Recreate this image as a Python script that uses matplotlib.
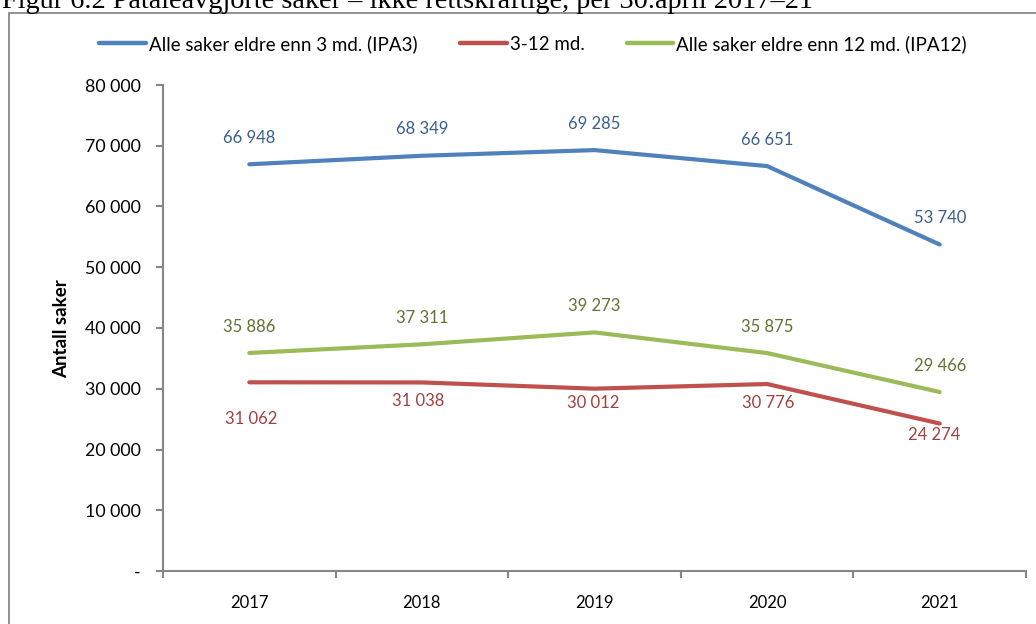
import matplotlib
matplotlib.use("Agg")
import matplotlib.pyplot as plt
from matplotlib.ticker import FuncFormatter, MultipleLocator
from matplotlib.lines import Line2D
from matplotlib.patches import Rectangle

years = ["2017", "2018", "2019", "2020", "2021"]
ipa3 = [66948, 68349, 69285, 66651, 53740]
mid = [31062, 31038, 30012, 30776, 24274]
ipa12 = [35886, 37311, 39273, 35875, 29466]
series_names = ["Alle saker eldre enn 3 md. (IPA3)", "3-12 md.", "Alle saker eldre enn 12 md. (IPA12)"]
title = "Figur 6.2 Påtaleavgjorte saker – ikke rettskraftige, per 30.april 2017–21"

plt.rcParams['font.family'] = ['Lato', 'DejaVu Sans']

W, H = 1036, 624
fig = plt.figure(figsize=(W / 100, H / 100), dpi=100)
ax = fig.add_axes([163 / W, (H - 571) / H, (1026 - 163) / W, (571 - 85) / H])

c_blue, c_red, c_green = "#4F81BD", "#C0504D", "#9BBB59"
t_blue, t_red, t_green = "#3B5F8C", "#A0413F", "#5E7533"
axis_c = "#868686"

x = list(range(len(years)))
for vals, col in [(ipa3, c_blue), (mid, c_red), (ipa12, c_green)]:
    ax.plot(x, vals, color=col, lw=3.0, solid_capstyle="round", solid_joinstyle="round")

def fmt(v):
    return f"{int(round(v)):,}".replace(",", " ")

# label offsets in points (style only)
above = [(0, 19)] * len(years)
red_offsets = [(1, -26.5), (-3, -13.2), (-1, -10), (1, -13.3), (-4, -8.1)]

for vals, col, offs in [(ipa3, t_blue, above), (ipa12, t_green, above), (mid, t_red, red_offsets)]:
    for xi, v, off in zip(x, vals, offs):
        ax.annotate(fmt(v), (xi, v), xytext=off, textcoords="offset points",
                    ha="center", va="center", fontsize=12, color=col)

ax.set_xlim(-0.5, len(years) - 0.5)
ax.set_ylim(0, 80000)
ax.yaxis.set_major_locator(MultipleLocator(10000))
ax.yaxis.set_major_formatter(FuncFormatter(lambda v, p: "-" if v == 0 else fmt(v)))
ax.set_xticks([i - 0.5 for i in range(len(years) + 1)], minor=False)
ax.set_xticklabels([])
ax.set_xticks(x, minor=True)
ax.set_xticklabels(years, minor=True)
ax.tick_params(axis="x", which="major", direction="out", length=5, width=1.5, color=axis_c)
ax.tick_params(axis="x", which="minor", length=0, pad=17, labelsize=12, labelcolor="#000000")
ax.tick_params(axis="y", direction="out", length=5, width=1.5, color=axis_c, pad=11,
               labelsize=12.8, labelcolor="#000000")
for s in ["top", "right"]:
    ax.spines[s].set_visible(False)
for s in ["left", "bottom"]:
    ax.spines[s].set_color(axis_c)
    ax.spines[s].set_linewidth(1.5)

fig.text(62 / W, 1 - 329 / H, "Antall saker", rotation=90, ha="center", va="center",
         fontsize=13.5, fontweight="bold")

handles = [Line2D([], [], color=c, lw=3.2, solid_capstyle="round") for c in (c_blue, c_red, c_green)]
fig.legend(handles, series_names, loc="center", bbox_to_anchor=(533 / W, 1 - 44 / H), ncol=3,
           frameon=False, fontsize=13.5, handlelength=2.5, handletextpad=0.16, columnspacing=2.25,
           borderaxespad=0, borderpad=0)

# outer border (cropped)
fig.patches.append(Rectangle((9 / W, -0.1), 1.2, (1 - 13 / H) + 0.1, transform=fig.transFigure,
                             fill=False, edgecolor="#7F7F7F", lw=1.2, clip_on=False))

# cropped title
t = fig.text(2 / W, 1 - 8 / H, title, ha="left", va="baseline", fontsize=17,
             family=["Liberation Serif", "DejaVu Serif"])
fig.canvas.draw()
bb = t.get_window_extent()
t.set_fontsize(17 * 811 / bb.width)

fig.savefig("out.png", dpi=100)
